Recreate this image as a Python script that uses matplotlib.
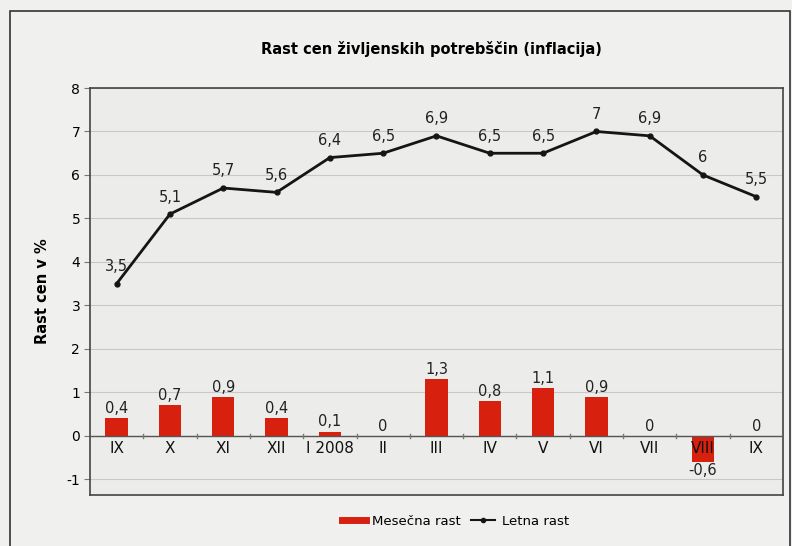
import matplotlib.pyplot as plt
from matplotlib.lines import Line2D
import numpy as np

plt.rcParams['axes.unicode_minus'] = False

meseci = ["IX", "X", "XI", "XII", "I 2008", "II", "III", "IV", "V", "VI", "VII", "VIII", "IX"]
mesecna = [0.4, 0.7, 0.9, 0.4, 0.1, 0, 1.3, 0.8, 1.1, 0.9, 0, -0.6, 0]
letna = [3.5, 5.1, 5.7, 5.6, 6.4, 6.5, 6.9, 6.5, 6.5, 7, 6.9, 6, 5.5]


def fmt(v):
    return ("%g" % v).replace(".", ",")


fig = plt.figure(figsize=(7.92, 5.46), dpi=100, facecolor="#f0f0ee")
# okvir okoli cele slike
fig.patches.append(plt.Rectangle((0.012, -0.01), 0.985, 0.99, transform=fig.transFigure,
                                 fill=False, edgecolor="#333333", linewidth=1.2))

ax = fig.add_axes([0.1136, 0.0934, 0.875, 0.7454])
ax.set_facecolor("#ececea")
x = np.arange(len(meseci))

ax.bar(x, mesecna, width=0.42, color="#d8200f", zorder=3)
ax.plot(x, letna, color="#151515", linewidth=2, marker="o", markersize=3.5, zorder=4)

# oznake vrednosti
for i, v in enumerate(letna):
    ax.text(x[i], v + 0.22, fmt(v), ha="center", va="bottom", fontsize=10.5, color="#222222")
for i, v in enumerate(mesecna):
    if v < 0:
        ax.text(x[i], v - 0.03, fmt(v), ha="center", va="top", fontsize=10.5, color="#222222")
    else:
        ax.text(x[i], v + 0.05, fmt(v), ha="center", va="bottom", fontsize=10.5, color="#222222")

# imena mesecev pod nicelno crto
for i, m in enumerate(meseci):
    ax.text(x[i], -0.12, m, ha="center", va="top", fontsize=11, color="#111111", zorder=5)

ax.axhline(0, color="#555555", linewidth=1, zorder=3)
for b in np.arange(0.5, len(meseci) - 0.5):
    ax.plot([b, b], [-0.04, 0.04], color="#777777", linewidth=1, zorder=3)

ax.set_xlim(-0.5, len(meseci) - 0.5)
ax.set_ylim(-1.36, 8)
ax.set_yticks(range(-1, 9))
ax.set_xticks([])
ax.grid(axis="y", color="#c8c8c8", linewidth=0.8, zorder=0)
ax.tick_params(axis="y", labelsize=10, length=4, pad=3, color="#777777")
for s in ax.spines.values():
    s.set_color("#444444")
    s.set_linewidth(1.2)
ax.set_ylabel("Rast cen v %", fontsize=10.5, fontweight="bold", labelpad=12)

fig.suptitle("Rast cen življenskih potrebščin (inflacija)", x=0.545, y=0.925,
             fontsize=10.5, fontweight="bold")

h = [Line2D([], [], color="#d8200f", linewidth=5),
     Line2D([], [], color="#151515", linewidth=1.5, marker="o", markersize=3)]
fig.legend(h, ["Mesečna rast", "Letna rast"], loc="center", bbox_to_anchor=(0.575, 0.045),
           ncol=2, frameon=False, fontsize=9.5, handlelength=1.8, columnspacing=0.8,
           handletextpad=0.5)

fig.savefig("out.png", dpi=100, facecolor=fig.get_facecolor())
